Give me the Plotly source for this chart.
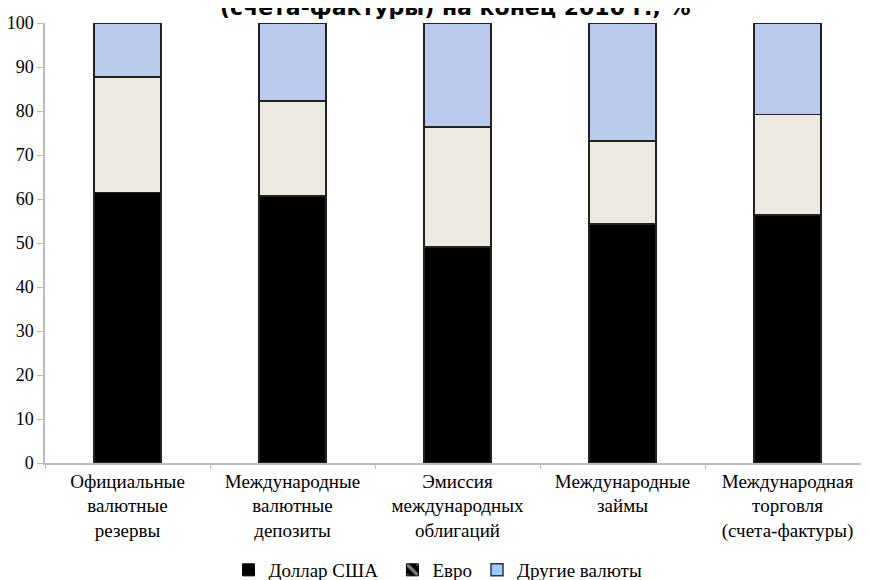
import plotly.graph_objects as go

categories = [
    "Официальные<br>валютные<br>резервы",
    "Международные<br>валютные<br>депозиты",
    "Эмиссия<br>международных<br>облигаций",
    "Международные<br>займы<br> ",
    "Международная<br>торговля<br>(счета-фактуры)",
]
dollar = [61.5, 60.7, 49.1, 54.4, 56.3]
euro = [26.3, 21.6, 27.3, 18.8, 22.9]
other = [12.2, 17.7, 23.6, 26.8, 20.8]
series_names = ["Доллар США", "Евро", "Другие валюты"]
y_ticks = [0, 10, 20, 30, 40, 50, 60, 70, 80, 90, 100]

serif = "Liberation Serif"
edge = dict(color="#222222", width=1.8)

fig = go.Figure()
fig.add_trace(go.Bar(x=categories, y=dollar, name=series_names[0], showlegend=False,
                     marker=dict(color="#000000", line=edge)))
fig.add_trace(go.Bar(x=categories, y=euro, name=series_names[1], showlegend=False,
                     marker=dict(color="#ECEAE0", line=edge)))
fig.add_trace(go.Bar(x=categories, y=other, name=series_names[2], showlegend=False,
                     marker=dict(color="#B9CAEC", line=edge)))

# legend-only entries
fig.add_trace(go.Bar(x=[None], y=[None], name=series_names[0] + "\u00a0\u00a0",
                     marker=dict(color="#000000", line=dict(color="#000", width=1))))
fig.add_trace(go.Bar(x=[None], y=[None], name=series_names[1],
                     marker=dict(color="#000000", line=dict(color="#000", width=1),
                                 pattern=dict(shape="\\", fgcolor="#ffffff", bgcolor="#000000",
                                              size=16, solidity=0.4))))
fig.add_trace(go.Bar(x=[None], y=[None], name=series_names[2],
                     marker=dict(color="#99CCFF", line=dict(color="#333", width=1.5))))

fig.update_layout(
    width=869, height=580,
    barmode="stack", bargap=0.59,
    plot_bgcolor="white", paper_bgcolor="white",
    margin=dict(l=37, r=7, t=15, b=125, autoexpand=False),
    font=dict(family=serif, size=18, color="#000"),
    legend=dict(orientation="h", x=430 / 869, xanchor="center", xref="container",
                y=18 / 580, yanchor="middle", yref="container",
                font=dict(family=serif, size=19), itemwidth=30,
                traceorder="normal"),
    annotations=[dict(text="<b>(счета-фактуры) на конец 2010 г., %</b>",
                      x=0.498, xref="paper", xanchor="center",
                      y=1, yref="paper", yanchor="bottom", yshift=1,
                      showarrow=False,
                      font=dict(family="DejaVu Sans", size=22, color="#000"))],
)
fig.update_xaxes(showline=True, linecolor="#bbbbbb", linewidth=1.5,
                 ticks="outside", tickson="boundaries", ticklen=4, tickcolor="#bbbbbb",
                 tickfont=dict(family=serif, size=19), showgrid=False, automargin=False)
fig.update_yaxes(range=[0, 100], tickvals=y_ticks, showline=True, linecolor="#bbbbbb", linewidth=1.5,
                 ticks="outside", ticklen=6, tickcolor="#bbbbbb", showgrid=False, zeroline=False,
                 tickfont=dict(family=serif, size=18), automargin=False)

fig.write_html("out.html")
